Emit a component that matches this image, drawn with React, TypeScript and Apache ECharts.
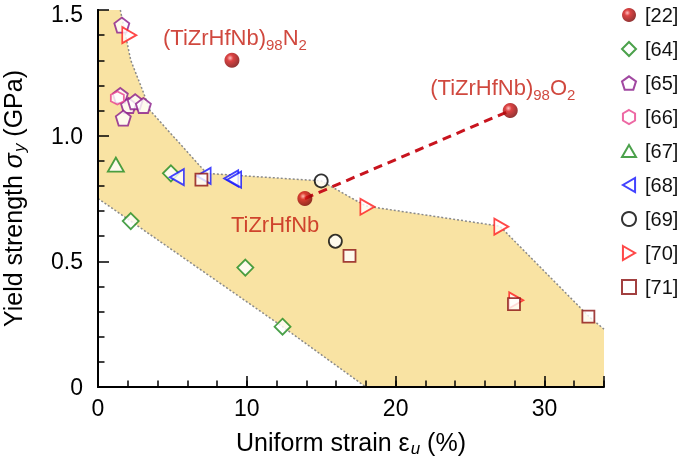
import React, { useEffect, useRef } from "react";
import * as echarts from "echarts";

// ---- data ----
const ref22: number[][] = [[9.0, 1.30], [27.7, 1.10], [13.9, 0.75]];
const ref64: number[][] = [[2.2, 0.66], [4.9, 0.85], [9.9, 0.475], [12.4, 0.24]];
const ref65: number[][] = [[1.6, 1.44], [1.5, 1.16], [2.05, 1.12], [2.5, 1.135], [3.05, 1.12], [1.7, 1.07]];
const ref66: number[][] = [[1.3, 1.15]];
const ref67: number[][] = [[1.2, 0.885]];
const ref68: number[][] = [[5.3, 0.835], [7.1, 0.84], [8.95, 0.83], [9.15, 0.825]];
const ref69: number[][] = [[15.0, 0.82], [15.95, 0.58]];
const ref70: number[][] = [[2.1, 1.40], [18.1, 0.717], [27.1, 0.638], [28.1, 0.345]];
const ref71: number[][] = [[6.95, 0.825], [16.9, 0.522], [27.95, 0.33], [32.95, 0.28]];

const oxygenTrend: number[][] = [[13.9, 0.75], [27.7, 1.10]];

const bandUpper: number[][] = [[0, 1.5], [1.5, 1.5], [2.2, 1.3], [3.0, 1.18], [3.5, 1.1], [7.3, 0.85], [15, 0.82], [18, 0.72], [27, 0.64], [33, 0.28], [34, 0.23]];
const bandLower: number[][] = [[0, 0.75], [2.2, 0.66], [12.4, 0.24], [18, 0], [34, 0]];

const annotations: (number | string)[][] = [
  [9.2, 1.39, "{m|(TiZrHfNb)}{s|98}{m|N}{s|2}"],
  [27.2, 1.19, "{m|(TiZrHfNb)}{s|98}{m|O}{s|2}"],
  [11.9, 0.645, "{m|TiZrHfNb}"],
];

const legendNames = ["[22]", "[64]", "[65]", "[66]", "[67]", "[68]", "[69]", "[70]", "[71]"];
const xTickLabels = [0, 10, 20, 30];
const yTickLabels = [0, 0.5, 1.0, 1.5];

const FONT = "'Liberation Sans', Arial, Helvetica, sans-serif";
const PENTAGON = "path://M0,-1 L0.951,-0.309 L0.588,0.809 L-0.588,0.809 L-0.951,-0.309 Z";
const HEXAGON = "path://M0,-1 L0.866,-0.5 L0.866,0.5 L0,1 L-0.866,0.5 L-0.866,-0.5 Z";
const TRI_UP = "path://M0.5,0 L1,0.866 L0,0.866 Z";
const TRI_LEFT = "path://M0.866,0 L0.866,1 L0,0.5 Z";
const TRI_RIGHT = "path://M0,0 L0.866,0.5 L0,1 Z";

const sphere = {
  type: "radial",
  x: 0.38,
  y: 0.35,
  r: 0.7,
  colorStops: [
    { offset: 0, color: "#ffb0b0" },
    { offset: 0.3, color: "#d41414" },
    { offset: 1, color: "#700000" },
  ],
};

function hollow(name: string, data: number[][], symbol: string, color: string, size: number | number[]) {
  return {
    name,
    type: "scatter",
    data,
    symbol,
    symbolSize: size,
    z: 5,
    itemStyle: { color: "#ffffff", borderColor: color, borderWidth: 1.8 },
    silent: true,
  };
}

export default function App() {
  const ref = useRef<HTMLDivElement>(null);
  useEffect(() => {
    if (!ref.current) return;
    const chart = echarts.init(ref.current, undefined, { renderer: "svg" });
    const polygon = [...bandUpper, ...bandLower.slice().reverse()];
    const yMax = yTickLabels[yTickLabels.length - 1];
    const option: any = {
      animation: false,
      grid: { left: 98, right: 81, top: 10, bottom: 78, containLabel: false, outerBoundsMode: "none" },
      legend: {
        data: legendNames,
        orient: "vertical",
        left: 616,
        top: 0,
        itemGap: 14,
        itemWidth: 14,
        itemHeight: 14,
        textStyle: { fontSize: 20, color: "#111", fontFamily: FONT, padding: [0, 0, 0, 4] },
        selectedMode: false,
      },
      xAxis: [
        {
          type: "value",
          min: 0,
          max: 34,
          interval: 10,
          z: 6,
          axisLine: { lineStyle: { color: "#000", width: 2 } },
          axisTick: { inside: true, length: 11, lineStyle: { color: "#000", width: 1.5 } },
          axisLabel: {
            color: "#000",
            fontSize: 23,
            fontFamily: FONT,
            margin: 9,
            formatter: (v: number) => (xTickLabels.indexOf(v) >= 0 ? String(v) : ""),
          },
          splitLine: { show: false },
          name: "{a|Uniform strain ε}{s|u}{a| (%)}",
          nameLocation: "middle",
          nameGap: 40,
          nameTextStyle: {
            rich: {
              a: { fontSize: 25, fontFamily: FONT, color: "#000" },
              s: { fontSize: 17, fontFamily: FONT, fontStyle: "italic", color: "#000", padding: [13, 0, 0, 1] },
            },
          },
        },
        {
          type: "value",
          min: 0,
          max: 34,
          interval: 2,
          position: "bottom",
          z: 6,
          axisLine: { show: false },
          axisTick: { inside: true, length: 6.5, lineStyle: { color: "#000", width: 1.5 } },
          axisLabel: { show: false },
          splitLine: { show: false },
        },
      ],
      yAxis: [
        {
          type: "value",
          min: 0,
          max: 1.5,
          interval: 0.5,
          z: 6,
          axisLine: { show: true, lineStyle: { color: "#000", width: 2 } },
          axisTick: { inside: true, length: 11, lineStyle: { color: "#000", width: 1.5 } },
          minorTick: { show: true, splitNumber: 5, length: 6.5, lineStyle: { color: "#000", width: 1.5 } },
          axisLabel: {
            color: "#000",
            fontSize: 23,
            fontFamily: FONT,
            margin: 15,
            rich: {
              t: { fontSize: 23, fontFamily: FONT, color: "#000", padding: [7, 0, 0, 0] },
            },
            formatter: (v: number) => {
              const hit = yTickLabels.find((t) => Math.abs(t - v) < 1e-9);
              if (hit === undefined) return "";
              if (hit === yMax) return "{t|" + hit.toFixed(1) + "}";
              return hit === 0 ? "0" : hit.toFixed(1);
            },
          },
          splitLine: { show: false },
          name: "{a|Yield strength }{g|σ}{s|y}{a| (GPa)}",
          nameLocation: "middle",
          nameGap: 70,
          nameTextStyle: {
            rich: {
              a: { fontSize: 25, fontFamily: FONT, color: "#000" },
              g: { fontSize: 25, fontFamily: FONT, fontStyle: "italic", color: "#000" },
              s: { fontSize: 17, fontFamily: FONT, fontStyle: "italic", color: "#000", padding: [13, 0, 0, 1] },
            },
          },
        },
        {
          type: "value",
          min: 0,
          max: 1.5,
          position: "right",
          z: 0,
          axisLine: { show: true, lineStyle: { color: "#000", width: 2 } },
          axisTick: { show: false },
          axisLabel: { show: false },
          splitLine: { show: false },
        },
      ],
      series: [
        {
          name: "band",
          type: "custom",
          z: 1,
          silent: true,
          data: [[0, 0]],
          renderItem: (_p: any, api: any) => ({
            type: "polygon",
            shape: { points: polygon.map((pt) => api.coord(pt)) },
            style: { fill: "#F9E3A3" },
          }),
        },
        {
          name: "bandUpper",
          type: "line",
          data: bandUpper.slice(1),
          symbol: "none",
          z: 2,
          silent: true,
          lineStyle: { color: "#8a8a8a", width: 1.5, type: [2, 2] },
        },
        {
          name: "bandLower",
          type: "line",
          data: bandLower.slice(0, 4),
          symbol: "none",
          z: 2,
          silent: true,
          lineStyle: { color: "#8a8a8a", width: 1.5, type: [2, 2] },
        },
        {
          name: "trend",
          type: "line",
          data: oxygenTrend,
          symbol: "none",
          z: 3,
          silent: true,
          lineStyle: { color: "#c8141e", width: 3, type: [9, 6] },
        },
        {
          name: "annot",
          type: "scatter",
          data: annotations,
          symbolSize: 1,
          itemStyle: { color: "rgba(0,0,0,0)" },
          z: 4,
          silent: true,
          label: {
            show: true,
            position: "inside",
            formatter: (p: any) => p.data[2],
            rich: {
              m: { fontSize: 22, fontFamily: FONT, color: "#c41a0e" },
              s: { fontSize: 15, fontFamily: FONT, color: "#c41a0e", padding: [13, 0, 0, 0] },
            },
          },
        },
        hollow("[64]", ref64, "diamond", "#1e8a1e", 16),
        hollow("[65]", ref65, PENTAGON, "#8a1a8a", 15),
        hollow("[66]", ref66, HEXAGON, "#e8428c", 13),
        hollow("[67]", ref67, TRI_UP, "#1e8a1e", [16, 14]),
        hollow("[68]", ref68, TRI_LEFT, "#1414ff", [14, 16]),
        hollow("[69]", ref69, "circle", "#000000", 13),
        hollow("[70]", ref70, TRI_RIGHT, "#ff1a1a", [14, 16]),
        hollow("[71]", ref71, "rect", "#8b1010", 12),
        {
          name: "[22]",
          type: "scatter",
          data: ref22,
          symbol: "circle",
          symbolSize: 15,
          z: 6,
          silent: true,
          itemStyle: { color: sphere },
        },
      ],
    };
    chart.setOption(option);
    return () => chart.dispose();
  }, []);
  return <div ref={ref} style={{ position: "fixed", left: 0, top: 0, width: 685, height: 465 }} />;
}
